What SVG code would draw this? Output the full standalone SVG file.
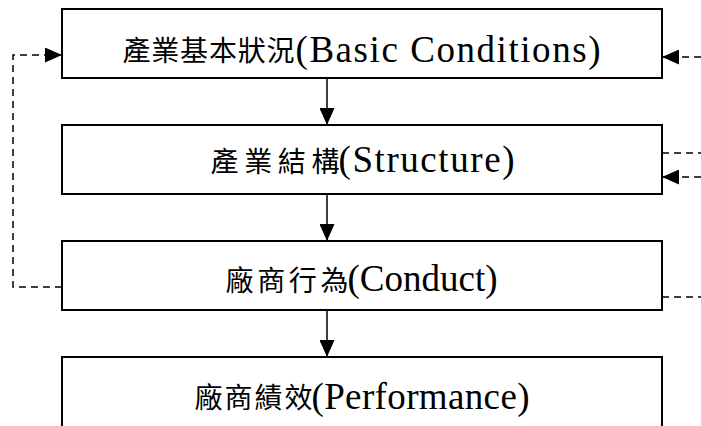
<svg xmlns="http://www.w3.org/2000/svg" width="701" height="426" viewBox="0 0 701 426">
<style>
.box{fill:#fff;stroke:#000;stroke-width:2}
.cjk{font-family:"Noto Sans CJK TC","Noto Sans CJK SC",sans-serif;font-size:28px;fill:#000}
.lat{font-family:"Liberation Serif",serif;font-size:37px;fill:#000}
.solid{fill:none;stroke:#000;stroke-width:1.5}
.dash{fill:none;stroke:#000;stroke-width:1.5;stroke-dasharray:7,5}
</style>
<defs>
<marker id="ah" markerUnits="userSpaceOnUse" markerWidth="17" markerHeight="15" refX="17" refY="7.5" orient="auto" viewBox="0 0 17 15">
<path d="M0,0 L17,7.5 L0,15 z" fill="#000"/>
</marker>
</defs>
<rect width="701" height="426" fill="#fff"/>
<g id="connectors">
<line class="solid" x1="327" y1="78" x2="327" y2="125" marker-end="url(#ah)"/>
<line class="solid" x1="327" y1="194" x2="327" y2="241" marker-end="url(#ah)"/>
<line class="solid" x1="327" y1="310" x2="327" y2="357" marker-end="url(#ah)"/>
<polyline class="dash" points="62,287 13,287 13,55 62,55" marker-end="url(#ah)"/>
<line class="dash" x1="701" y1="57" x2="662" y2="57" marker-end="url(#ah)"/>
<line class="dash" x1="662" y1="153" x2="701" y2="153"/>
<line class="dash" x1="701" y1="177" x2="662" y2="177" marker-end="url(#ah)"/>
<line class="dash" x1="662" y1="297" x2="701" y2="297"/>
</g>
<g id="basic">
<rect class="box" x="62" y="9" width="600" height="69"/>
<text class="cjk" x="122.5" y="61" textLength="172" lengthAdjust="spacing">產業基本狀況</text>
<text class="lat" x="295.5" y="62" textLength="305" lengthAdjust="spacing">(Basic Conditions)</text>
</g>
<g id="structure">
<rect class="box" x="62" y="125" width="600" height="69"/>
<text class="cjk" x="210.5" y="172" textLength="129" lengthAdjust="spacing">產業結構</text>
<text class="lat" x="338.5" y="172" textLength="176" lengthAdjust="spacing">(Structure)</text>
</g>
<g id="conduct">
<rect class="box" x="62" y="241" width="600" height="69"/>
<text class="cjk" x="225.5" y="291" textLength="123" lengthAdjust="spacing">廠商行為</text>
<text class="lat" x="347.5" y="291" textLength="150" lengthAdjust="spacing">(Conduct)</text>
</g>
<g id="performance">
<rect class="box" x="62" y="357" width="600" height="70"/>
<text class="cjk" x="194.5" y="408" textLength="118" lengthAdjust="spacing">廠商績效</text>
<text class="lat" x="311.5" y="409" textLength="218" lengthAdjust="spacing">(Performance)</text>
</g>
</svg>
